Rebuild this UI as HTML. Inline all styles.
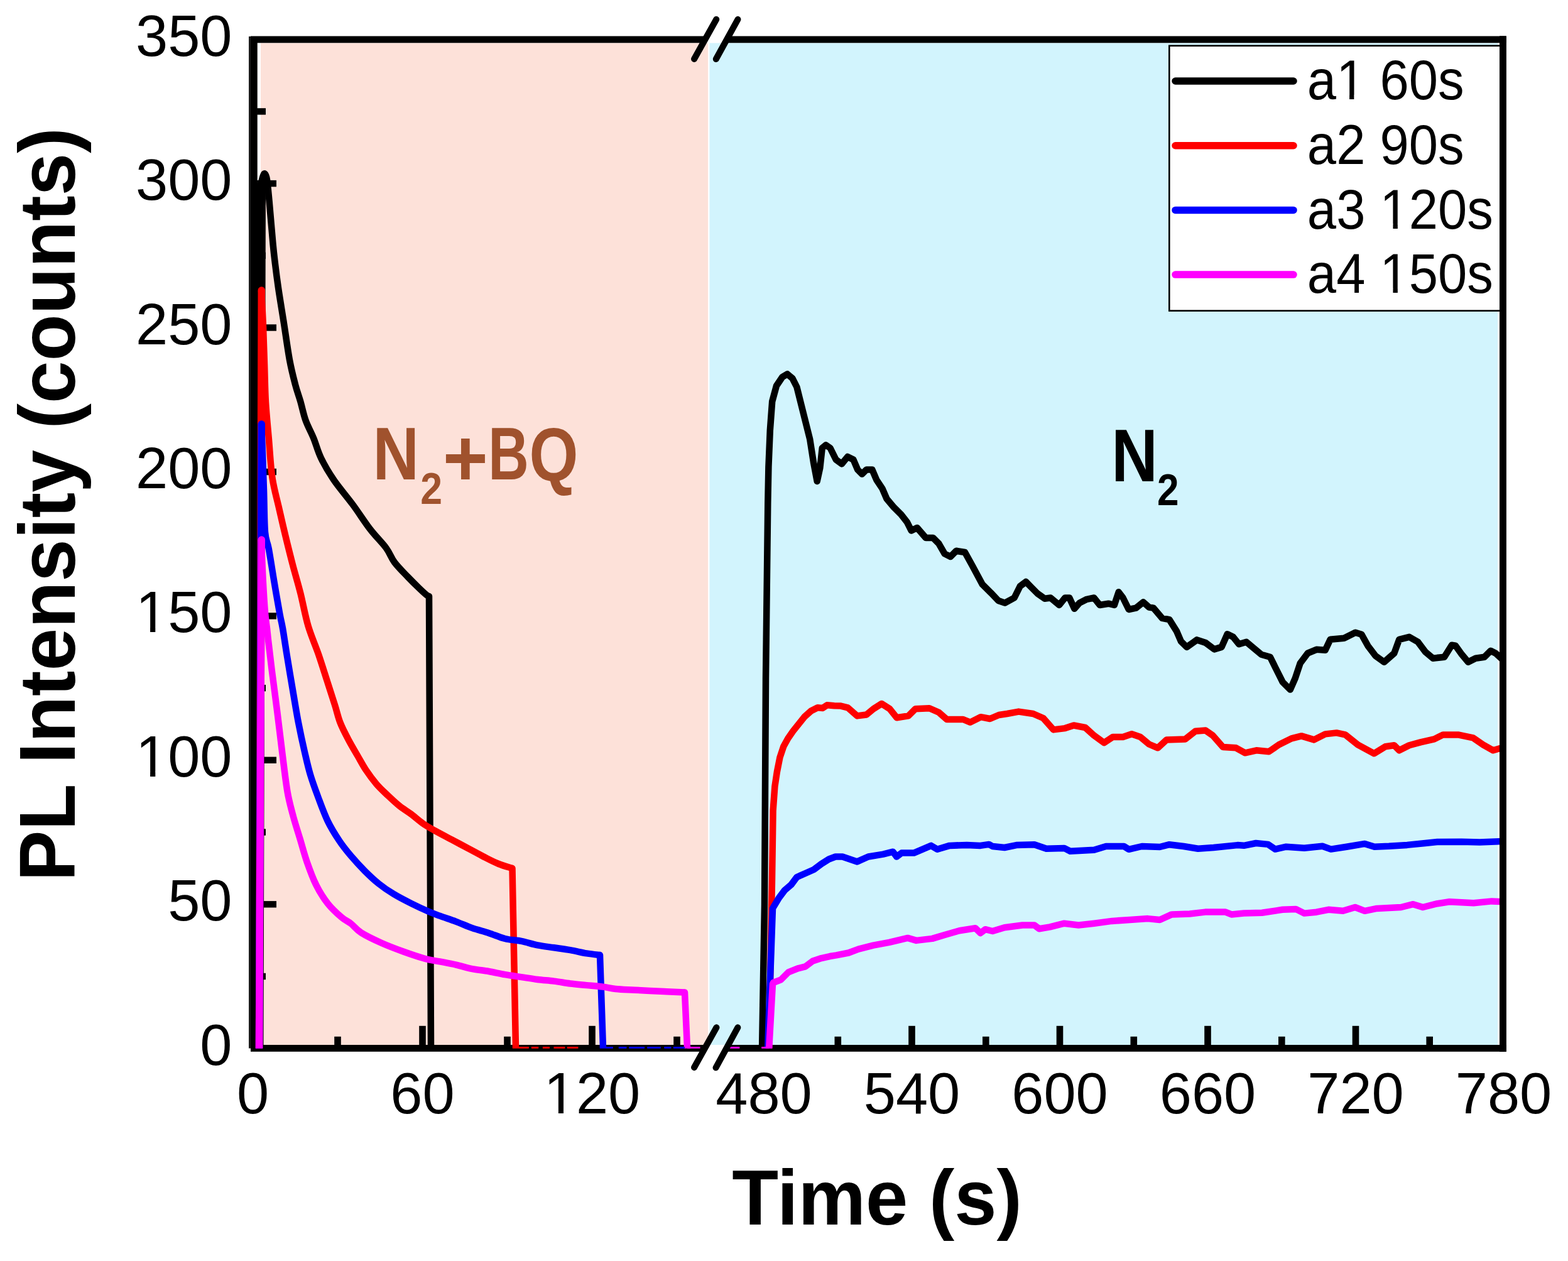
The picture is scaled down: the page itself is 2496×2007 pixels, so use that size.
<!DOCTYPE html>
<html><head><meta charset="utf-8"><title>PL Intensity vs Time</title>
<style>html,body{margin:0;padding:0;background:#fff;}svg{display:block;}</style>
</head><body>
<svg width="2496" height="2007" viewBox="0 0 2496 2007"><rect x="0" y="0" width="2496" height="2007" fill="#fff"/><rect x="415" y="68.5" width="712" height="1594.5" fill="#fde1d9"/><rect x="1129.5" y="68.5" width="1254.5" height="1594.5" fill="#d2f4fd"/><rect x="667.2" y="1632.8" width="10.6" height="31.200000000000045" fill="#000"/><rect x="937.2" y="1632.8" width="10.6" height="31.200000000000045" fill="#000"/><rect x="532.2" y="1649.8" width="10.6" height="14.200000000000045" fill="#000"/><rect x="802.2" y="1649.8" width="10.6" height="14.200000000000045" fill="#000"/><rect x="1072.2" y="1649.8" width="10.6" height="14.200000000000045" fill="#000"/><rect x="1210.7" y="1632.8" width="10.6" height="31.200000000000045" fill="#000"/><rect x="1446.2" y="1632.8" width="10.6" height="31.200000000000045" fill="#000"/><rect x="1681.7" y="1632.8" width="10.6" height="31.200000000000045" fill="#000"/><rect x="1917.2" y="1632.8" width="10.6" height="31.200000000000045" fill="#000"/><rect x="2152.7" y="1632.8" width="10.6" height="31.200000000000045" fill="#000"/><rect x="1328.5" y="1649.8" width="10.6" height="14.200000000000045" fill="#000"/><rect x="1564.0" y="1649.8" width="10.6" height="14.200000000000045" fill="#000"/><rect x="1799.5" y="1649.8" width="10.6" height="14.200000000000045" fill="#000"/><rect x="2035.0" y="1649.8" width="10.6" height="14.200000000000045" fill="#000"/><rect x="2270.4" y="1649.8" width="10.6" height="14.200000000000045" fill="#000"/><rect x="407" y="1548.8" width="16" height="10.4" fill="#000"/><rect x="407" y="1434.1" width="33" height="10.4" fill="#000"/><rect x="407" y="1319.3" width="16" height="10.4" fill="#000"/><rect x="407" y="1204.6" width="33" height="10.4" fill="#000"/><rect x="407" y="1089.9" width="16" height="10.4" fill="#000"/><rect x="407" y="975.2" width="33" height="10.4" fill="#000"/><rect x="407" y="860.5" width="16" height="10.4" fill="#000"/><rect x="407" y="745.8" width="33" height="10.4" fill="#000"/><rect x="407" y="631.0" width="16" height="10.4" fill="#000"/><rect x="407" y="516.3" width="33" height="10.4" fill="#000"/><rect x="407" y="401.6" width="16" height="10.4" fill="#000"/><rect x="407" y="286.9" width="33" height="10.4" fill="#000"/><rect x="407" y="172.2" width="16" height="10.4" fill="#000"/><rect x="396" y="58" width="13.5" height="1610.5" fill="#1c1c1c"/><rect x="399" y="58" width="10.5" height="1610.5" fill="#000"/><rect x="399" y="57.5" width="723" height="10.8" fill="#000"/><rect x="1157" y="57.5" width="1240.6999999999998" height="10.8" fill="#000"/><rect x="399" y="1663" width="723" height="10.8" fill="#000"/><rect x="1156" y="1663" width="1241.6999999999998" height="10.8" fill="#000"/><rect x="2387" y="57.5" width="10.7" height="1616.3" fill="#000"/><defs><clipPath id="cp"><rect x="403" y="63" width="1989.3" height="1605.7"/></clipPath></defs><g clip-path="url(#cp)" fill="none" stroke-linejoin="round" stroke-linecap="butt"><line x1="412.5" y1="1668" x2="416" y2="294" stroke="#000000" stroke-width="14" stroke-linecap="round"/><path d="M415.0,294.0 C415.6,291.8 417.4,283.9 418.5,281.0 C419.6,278.1 420.4,275.7 421.5,276.5 C422.6,277.3 423.8,278.9 425.0,286.0 C426.2,293.1 426.9,302.0 428.5,319.0 C430.1,336.0 432.9,371.2 434.5,388.0 C436.1,404.8 436.6,408.3 438.0,420.0 C439.4,431.7 440.7,442.2 443.0,458.0 C445.3,473.8 449.0,495.8 452.0,515.0 C455.0,534.2 458.0,556.8 461.0,573.0 C464.0,589.2 467.2,601.2 470.0,612.0 C472.8,622.8 475.2,628.5 478.0,638.0 C480.8,647.5 483.0,659.2 486.5,669.0 C490.0,678.8 494.9,687.0 499.0,697.0 C503.1,707.0 505.6,717.8 511.0,729.0 C516.4,740.2 523.1,751.7 531.5,764.0 C539.9,776.3 551.9,790.0 561.5,803.0 C571.1,816.0 580.2,830.5 589.0,842.0 C597.8,853.5 608.0,863.2 614.5,872.0 C621.0,880.8 622.2,887.3 628.0,895.0 C633.8,902.7 642.5,911.2 649.0,918.0 C655.5,924.8 662.0,931.2 667.0,936.0 C672.0,940.8 676.3,944.8 679.0,947.0 C681.7,949.2 682.3,948.7 683.0,949.0" stroke="#000000" stroke-width="10.5"/><path d="M683.0,949.0 L686.0,1668.0" stroke="#000000" stroke-width="10.5" stroke-linecap="round"/><path d="M1213.0,1672.0 L1217.0,1440.0 L1219.0,1080.0 L1222.3,800.0 L1223.4,743.0 L1225.8,685.0 L1229.2,639.0 L1236.0,614.0 L1245.4,600.0 L1253.4,595.4 L1261.5,602.3 L1268.4,616.0 L1275.4,644.0 L1282.3,671.5 L1289.2,699.0 L1295.0,736.0 L1300.7,766.0 L1305.3,745.0 L1308.8,713.0 L1314.6,708.4 L1321.5,713.0 L1330.7,731.5 L1339.9,738.4 L1349.2,727.0 L1358.4,731.5 L1365.3,747.6 L1372.2,754.5 L1379.2,747.6 L1388.4,747.6 L1395.3,763.8 L1404.5,777.6 L1411.5,793.8 L1423.0,807.6 L1434.5,819.0 L1443.7,830.7 L1450.7,844.5 L1459.9,840.0 L1473.7,856.0 L1485.3,856.0 L1494.5,865.3 L1503.7,881.4 L1513.0,886.0 L1522.2,876.8 L1536.0,879.0 L1547.6,900.0 L1563.7,930.0 L1577.5,943.7 L1589.2,956.0 L1599.6,959.6 L1614.6,951.5 L1623.8,933.0 L1633.1,926.0 L1642.3,935.4 L1651.5,944.6 L1663.0,952.7 L1672.3,951.5 L1686.1,963.0 L1695.3,951.5 L1702.3,951.5 L1710.3,968.8 L1718.4,959.6 L1729.9,953.8 L1741.5,951.5 L1750.7,963.0 L1764.5,960.7 L1773.8,963.0 L1780.7,942.3 L1787.6,951.5 L1796.8,970.0 L1808.4,967.6 L1819.9,958.4 L1829.1,966.5 L1836.1,967.6 L1849.9,983.8 L1861.4,986.1 L1873.0,1004.6 L1879.9,1020.7 L1889.1,1029.9 L1905.3,1018.4 L1919.1,1023.0 L1932.9,1033.4 L1944.5,1029.9 L1953.7,1009.2 L1962.9,1013.8 L1972.2,1025.3 L1984.0,1021.8 L1995.9,1031.8 L2007.9,1041.7 L2021.9,1045.7 L2029.8,1061.7 L2041.8,1085.6 L2053.8,1097.6 L2061.7,1079.6 L2069.7,1055.7 L2081.7,1039.7 L2095.6,1033.8 L2109.6,1034.8 L2117.6,1017.8 L2139.5,1015.8 L2157.5,1006.8 L2167.4,1009.8 L2177.4,1027.8 L2189.4,1043.7 L2203.3,1053.7 L2219.3,1039.7 L2227.3,1017.8 L2243.2,1013.8 L2257.2,1021.8 L2269.2,1037.8 L2281.1,1047.7 L2299.1,1045.7 L2311.0,1026.8 L2317.0,1027.8 L2327.0,1041.7 L2337.0,1053.7 L2348.9,1047.7 L2362.9,1045.7 L2372.9,1035.8 L2380.8,1039.7 L2393.0,1051.0" stroke="#000000" stroke-width="10.5"/><line x1="412.5" y1="1668" x2="416.3" y2="462" stroke="#ff0000" stroke-width="11.5" stroke-linecap="round"/><path d="M416.0,462.0 C416.5,471.7 418.2,500.3 419.0,520.0 C419.8,539.7 420.3,560.0 421.0,580.0 C421.7,600.0 421.8,620.0 423.0,640.0 C424.2,660.0 426.3,680.0 428.0,700.0 C429.7,720.0 430.8,742.3 433.4,760.0 C436.0,777.7 440.0,790.7 443.5,806.0 C447.0,821.3 450.5,836.7 454.2,852.0 C457.9,867.3 461.7,882.6 465.7,898.0 C469.7,913.4 474.3,928.2 478.4,944.5 C482.5,960.8 485.7,979.8 490.5,996.0 C495.3,1012.2 502.1,1027.3 507.2,1042.0 C512.2,1056.7 516.5,1070.7 520.8,1084.0 C525.1,1097.3 529.5,1111.0 533.0,1122.0 C536.5,1133.0 537.9,1140.7 541.5,1150.0 C545.1,1159.3 550.2,1168.8 554.9,1177.7 C559.6,1186.6 565.0,1195.5 569.6,1203.5 C574.2,1211.5 577.7,1218.3 582.6,1225.7 C587.5,1233.1 593.4,1241.0 599.2,1247.8 C605.0,1254.6 611.5,1260.4 617.6,1266.3 C623.8,1272.2 630.0,1278.0 636.1,1282.9 C642.2,1287.8 648.4,1291.2 654.5,1295.8 C660.6,1300.4 666.9,1306.2 673.0,1310.5 C679.1,1314.8 683.7,1317.3 691.4,1321.6 C699.1,1325.9 709.9,1331.5 719.1,1336.4 C728.3,1341.3 737.6,1346.2 746.8,1351.1 C756.0,1356.0 766.7,1361.9 774.5,1365.9 C782.3,1369.9 787.0,1372.3 793.8,1375.0 C800.6,1377.7 811.9,1380.8 815.5,1382.0" stroke="#ff0000" stroke-width="10.5"/><path d="M815.5,1382.0 L821.0,1668.0" stroke="#ff0000" stroke-width="10.5" stroke-linecap="round"/><path d="M1224.0,1672.0 L1229.0,1400.0 L1230.6,1290.0 L1233.4,1251.5 L1236.9,1228.4 L1241.5,1205.3 L1247.3,1188.0 L1254.2,1175.4 L1262.3,1163.8 L1271.5,1152.3 L1280.7,1140.7 L1291.1,1131.5 L1301.5,1126.3 L1309.6,1126.9 L1316.5,1122.3 L1328.0,1123.2 L1338.4,1123.6 L1349.6,1126.4 L1364.4,1139.4 L1379.2,1137.5 L1390.4,1128.2 L1403.4,1120.0 L1416.3,1128.2 L1427.5,1142.2 L1446.0,1139.4 L1457.2,1128.2 L1479.4,1127.3 L1494.3,1133.8 L1507.2,1145.0 L1533.2,1145.0 L1544.4,1149.6 L1561.1,1141.2 L1575.9,1144.0 L1590.0,1138.0 L1603.1,1136.0 L1621.5,1132.6 L1644.6,1136.0 L1660.7,1143.0 L1676.9,1161.4 L1695.3,1159.1 L1709.2,1154.5 L1727.6,1158.0 L1741.5,1170.6 L1757.6,1182.2 L1771.5,1172.9 L1787.6,1172.9 L1801.5,1168.3 L1815.3,1172.9 L1829.1,1184.5 L1843.0,1190.3 L1856.8,1177.6 L1886.8,1176.4 L1903.0,1163.7 L1919.1,1162.6 L1930.6,1170.6 L1946.8,1189.1 L1967.5,1190.3 L1982.0,1198.3 L1999.9,1194.3 L2019.9,1196.3 L2035.8,1185.3 L2055.8,1175.4 L2071.7,1171.4 L2091.7,1177.4 L2109.6,1168.4 L2127.6,1166.4 L2141.5,1169.4 L2161.5,1185.3 L2187.4,1199.3 L2205.3,1188.3 L2219.3,1186.3 L2227.3,1194.3 L2243.2,1186.3 L2261.2,1181.4 L2283.1,1176.4 L2297.1,1169.4 L2321.0,1169.4 L2344.9,1174.4 L2360.9,1185.3 L2376.9,1194.3 L2393.0,1189.5" stroke="#ff0000" stroke-width="10.5"/><line x1="412.5" y1="1668" x2="416.3" y2="675" stroke="#0000ff" stroke-width="11.5" stroke-linecap="round"/><path d="M416.0,675.0 C416.3,682.5 417.3,702.5 418.0,720.0 C418.7,737.5 419.3,758.8 420.0,780.0 C420.7,801.2 420.7,831.5 422.0,847.0 C423.3,862.5 425.3,860.0 427.7,873.0 C430.1,886.0 433.4,907.7 436.3,925.0 C439.2,942.3 443.0,964.3 445.3,976.8 C447.6,989.3 448.1,989.1 450.0,1000.0 C451.9,1010.9 453.9,1025.3 456.6,1042.0 C459.3,1058.7 463.2,1082.0 466.3,1100.0 C469.4,1118.0 471.9,1134.0 475.0,1150.0 C478.1,1166.0 481.6,1182.3 484.8,1196.1 C488.0,1209.9 490.3,1220.7 494.0,1233.0 C497.7,1245.3 502.3,1257.7 506.9,1270.0 C511.5,1282.3 516.2,1295.5 521.7,1306.9 C527.2,1318.3 534.0,1329.0 540.1,1338.2 C546.2,1347.4 551.8,1354.2 558.6,1362.2 C565.4,1370.2 573.3,1378.8 580.7,1386.2 C588.1,1393.6 595.2,1400.3 602.9,1406.5 C610.6,1412.7 618.3,1417.9 626.9,1423.1 C635.5,1428.3 645.3,1433.3 654.5,1437.9 C663.7,1442.5 674.6,1447.5 682.2,1450.8 C689.8,1454.1 692.7,1455.0 700.0,1457.7 C707.3,1460.4 717.4,1463.6 726.0,1466.8 C734.6,1470.0 743.2,1474.1 751.9,1477.1 C760.5,1480.1 769.2,1482.1 777.9,1484.9 C786.6,1487.7 795.2,1491.8 803.9,1494.0 C812.6,1496.2 821.2,1496.2 829.9,1497.9 C838.5,1499.6 847.1,1502.7 855.8,1504.4 C864.4,1506.1 873.1,1507.0 881.8,1508.3 C890.5,1509.6 899.1,1510.7 907.8,1512.2 C916.5,1513.7 925.9,1516.1 933.8,1517.4 C941.7,1518.7 951.5,1519.6 955.0,1520.0" stroke="#0000ff" stroke-width="10.5"/><path d="M955.0,1520.0 L960.0,1668.0" stroke="#0000ff" stroke-width="10.5" stroke-linecap="round"/><path d="M1222.0,1672.0 L1230.0,1446.0 L1231.0,1444.0 L1240.0,1429.0 L1249.0,1417.0 L1259.5,1408.0 L1268.5,1396.0 L1282.0,1390.0 L1295.5,1384.0 L1307.5,1375.0 L1319.4,1367.5 L1330.0,1363.5 L1341.0,1363.5 L1364.5,1371.4 L1382.2,1363.5 L1405.7,1359.6 L1421.4,1355.7 L1427.3,1363.5 L1435.1,1357.6 L1454.7,1357.6 L1482.2,1345.9 L1492.0,1351.8 L1511.6,1345.9 L1539.0,1344.9 L1560.6,1345.9 L1574.3,1343.9 L1580.0,1347.0 L1599.0,1349.0 L1618.0,1345.1 L1646.6,1344.2 L1665.6,1350.8 L1694.1,1349.9 L1703.6,1354.7 L1741.6,1352.7 L1760.6,1347.0 L1789.2,1347.0 L1796.8,1351.8 L1817.7,1347.0 L1846.2,1348.0 L1861.4,1344.2 L1884.2,1347.0 L1907.1,1350.8 L1931.8,1349.0 L1969.8,1345.1 L1980.0,1345.8 L1999.2,1342.0 L2018.5,1343.9 L2030.0,1351.6 L2047.4,1347.7 L2076.2,1349.7 L2105.1,1346.8 L2118.6,1351.6 L2143.6,1347.7 L2172.5,1342.9 L2187.9,1347.7 L2211.0,1346.8 L2239.9,1344.9 L2268.7,1342.0 L2288.0,1340.0 L2326.5,1339.7 L2355.4,1340.4 L2393.0,1339.0" stroke="#0000ff" stroke-width="10.5"/><line x1="412.5" y1="1668" x2="416.3" y2="859" stroke="#ff00ff" stroke-width="11.5" stroke-linecap="round"/><path d="M416.0,859.0 C416.4,869.2 417.5,900.7 418.5,920.0 C419.5,939.3 420.9,961.7 422.0,975.0 C423.1,988.3 424.1,992.0 425.0,1000.0 C425.9,1008.0 426.2,1012.2 427.5,1023.0 C428.8,1033.8 430.2,1046.4 432.5,1065.0 C434.8,1083.6 438.6,1111.3 441.5,1134.5 C444.4,1157.7 447.3,1182.9 450.0,1204.0 C452.7,1225.1 454.9,1245.0 457.7,1261.0 C460.5,1277.0 463.7,1287.8 467.0,1300.0 C470.3,1312.2 473.8,1322.6 477.4,1334.5 C481.0,1346.4 484.2,1359.1 488.5,1371.4 C492.8,1383.7 497.7,1397.3 503.2,1408.4 C508.7,1419.5 514.9,1429.3 521.7,1437.9 C528.5,1446.5 537.6,1454.7 543.8,1460.0 C549.9,1465.3 553.4,1465.9 558.6,1470.0 C563.8,1474.1 566.8,1479.3 575.0,1484.5 C583.2,1489.7 596.4,1496.0 607.6,1501.0 C618.8,1506.0 630.4,1510.3 642.0,1514.5 C653.6,1518.7 667.3,1523.3 677.0,1526.0 C686.7,1528.7 691.8,1528.8 700.0,1530.4 C708.2,1532.0 717.4,1533.6 726.0,1535.6 C734.6,1537.5 743.2,1540.4 751.9,1542.1 C760.5,1543.8 769.2,1544.5 777.9,1546.0 C786.6,1547.5 795.2,1549.7 803.9,1551.2 C812.6,1552.7 821.2,1553.8 829.9,1555.1 C838.5,1556.4 847.1,1557.9 855.8,1559.0 C864.4,1560.1 873.1,1560.5 881.8,1561.6 C890.5,1562.7 899.1,1564.4 907.8,1565.5 C916.5,1566.6 925.1,1567.2 933.8,1568.1 C942.4,1568.9 952.0,1569.6 959.7,1570.6 C967.4,1571.6 971.5,1573.1 980.0,1573.9 C988.5,1574.8 997.9,1575.0 1010.7,1575.7 C1023.5,1576.4 1043.8,1577.4 1057.0,1578.0 C1070.2,1578.6 1084.5,1579.2 1090.0,1579.5" stroke="#ff00ff" stroke-width="10.5"/><path d="M1090.0,1579.5 L1094.0,1668.0" stroke="#ff00ff" stroke-width="10.5" stroke-linecap="round"/><path d="M1224.0,1672.0 L1230.0,1566.0 L1231.0,1564.0 L1243.0,1559.4 L1255.0,1547.4 L1270.0,1541.4 L1282.0,1538.4 L1294.0,1529.4 L1307.5,1525.0 L1321.0,1522.0 L1331.2,1520.4 L1350.8,1516.5 L1366.5,1510.6 L1390.0,1504.7 L1415.5,1499.8 L1444.9,1492.9 L1458.6,1496.9 L1484.1,1493.9 L1503.7,1488.0 L1527.3,1481.2 L1552.7,1477.3 L1560.6,1485.1 L1568.4,1479.2 L1580.0,1482.0 L1599.0,1476.3 L1627.5,1472.5 L1646.6,1472.5 L1654.2,1478.2 L1671.3,1475.4 L1694.1,1469.7 L1716.9,1472.5 L1741.6,1469.7 L1770.1,1465.9 L1798.7,1464.0 L1827.2,1462.1 L1846.2,1464.0 L1865.2,1455.4 L1893.7,1454.5 L1918.5,1451.6 L1950.8,1451.6 L1960.3,1455.4 L1980.0,1453.6 L2008.9,1452.7 L2041.6,1447.8 L2062.8,1446.9 L2076.2,1453.6 L2095.5,1451.7 L2114.7,1447.8 L2137.8,1449.8 L2157.1,1444.0 L2172.5,1449.8 L2191.7,1445.9 L2230.2,1444.0 L2249.5,1439.2 L2264.9,1444.0 L2288.0,1438.2 L2307.2,1435.3 L2345.7,1437.3 L2374.6,1434.4 L2393.0,1435.3" stroke="#ff00ff" stroke-width="10.5"/></g><rect x="826.0" y="1666" width="15.8" height="2.8" fill="#ff0000"/><rect x="845.9" y="1666" width="11.3" height="2.8" fill="#ff0000"/><rect x="863.9" y="1666" width="11.0" height="2.8" fill="#ff0000"/><rect x="881.5" y="1666" width="17.8" height="2.8" fill="#ff0000"/><rect x="902.8" y="1666" width="17.6" height="2.8" fill="#ff0000"/><rect x="965.0" y="1666" width="10.8" height="2.8" fill="#0000ff"/><rect x="984.8" y="1666" width="12.6" height="2.8" fill="#0000ff"/><rect x="1001.3" y="1666" width="24.7" height="2.8" fill="#0000ff"/><rect x="1030.2" y="1666" width="21.5" height="2.8" fill="#0000ff"/><rect x="1057.3" y="1666" width="11.1" height="2.8" fill="#0000ff"/><rect x="1071.9" y="1666" width="18.1" height="2.8" fill="#0000ff"/><rect x="1094.0" y="1666" width="20.5" height="2.8" fill="#ff00ff"/><rect x="1120.7" y="1666" width="0.3" height="2.8" fill="#ff00ff"/><rect x="1157.0" y="1666" width="20.3" height="2.8" fill="#ff00ff"/><rect x="1212.2" y="1666" width="11.8" height="2.8" fill="#ff00ff"/><line x1="1105" y1="94" x2="1140.3" y2="30.8" stroke="#000" stroke-width="10" stroke-linecap="round"/><line x1="1139.8" y1="94" x2="1174.5" y2="30.8" stroke="#000" stroke-width="10" stroke-linecap="round"/><line x1="1105" y1="1699" x2="1140.5" y2="1635.3" stroke="#000" stroke-width="10" stroke-linecap="round"/><line x1="1139.5" y1="1699.3" x2="1174.4" y2="1635.3" stroke="#000" stroke-width="10" stroke-linecap="round"/><text transform="translate(369.50,1694.70)" x="-51.17" y="0" font-family="Liberation Sans, Arial, sans-serif" font-size="92" fill="#000" style="font-kerning:none">0</text><text transform="translate(369.50,1465.27)" x="-102.33" y="0" font-family="Liberation Sans, Arial, sans-serif" font-size="92" fill="#000" style="font-kerning:none">50</text><text transform="translate(369.50,1235.83)" x="-153.50" y="0" font-family="Liberation Sans, Arial, sans-serif" font-size="92" fill="#000" style="font-kerning:none" clip-path="url(#c1_0)">100</text><text transform="translate(369.50,1006.39)" x="-153.50" y="0" font-family="Liberation Sans, Arial, sans-serif" font-size="92" fill="#000" style="font-kerning:none" clip-path="url(#c1_1)">150</text><text transform="translate(369.50,776.96)" x="-153.50" y="0" font-family="Liberation Sans, Arial, sans-serif" font-size="92" fill="#000" style="font-kerning:none">200</text><text transform="translate(369.50,547.53)" x="-153.50" y="0" font-family="Liberation Sans, Arial, sans-serif" font-size="92" fill="#000" style="font-kerning:none">250</text><text transform="translate(369.50,318.09)" x="-153.50" y="0" font-family="Liberation Sans, Arial, sans-serif" font-size="92" fill="#000" style="font-kerning:none">300</text><text transform="translate(369.50,88.65)" x="-153.50" y="0" font-family="Liberation Sans, Arial, sans-serif" font-size="92" fill="#000" style="font-kerning:none">350</text><text transform="translate(402.50,1772.30)" x="-25.58" y="0" font-family="Liberation Sans, Arial, sans-serif" font-size="92" fill="#000" style="font-kerning:none">0</text><text transform="translate(672.50,1772.30)" x="-51.17" y="0" font-family="Liberation Sans, Arial, sans-serif" font-size="92" fill="#000" style="font-kerning:none">60</text><text transform="translate(942.50,1772.30)" x="-76.75" y="0" font-family="Liberation Sans, Arial, sans-serif" font-size="92" fill="#000" style="font-kerning:none" clip-path="url(#c1_2)">120</text><text transform="translate(1216.00,1772.30)" x="-76.75" y="0" font-family="Liberation Sans, Arial, sans-serif" font-size="92" fill="#000" style="font-kerning:none">480</text><text transform="translate(1451.50,1772.30)" x="-76.75" y="0" font-family="Liberation Sans, Arial, sans-serif" font-size="92" fill="#000" style="font-kerning:none">540</text><text transform="translate(1687.00,1772.30)" x="-76.75" y="0" font-family="Liberation Sans, Arial, sans-serif" font-size="92" fill="#000" style="font-kerning:none">600</text><text transform="translate(1922.50,1772.30)" x="-76.75" y="0" font-family="Liberation Sans, Arial, sans-serif" font-size="92" fill="#000" style="font-kerning:none">660</text><text transform="translate(2158.00,1772.30)" x="-76.75" y="0" font-family="Liberation Sans, Arial, sans-serif" font-size="92" fill="#000" style="font-kerning:none">720</text><text transform="translate(2393.50,1772.30)" x="-76.75" y="0" font-family="Liberation Sans, Arial, sans-serif" font-size="92" fill="#000" style="font-kerning:none">780</text><text transform="translate(1396,1948.9) scale(0.968,1)" x="0" y="0" font-family="Liberation Sans, Arial, sans-serif" font-size="125" font-weight="bold" text-anchor="middle">Time (s)</text><text transform="translate(119,803) rotate(-90) scale(0.966,1)" x="0" y="0" font-family="Liberation Sans, Arial, sans-serif" font-size="125.8" font-weight="bold" text-anchor="middle">PL Intensity (counts)</text><text transform="translate(593.60,763.20) scale(1.0172,1.1817)" font-family="Liberation Sans, Arial, sans-serif" font-size="100" font-weight="bold" fill="#a0522d">N</text><text transform="translate(669.13,801.80) scale(0.6252,0.6989)" font-family="Liberation Sans, Arial, sans-serif" font-size="100" font-weight="bold" fill="#a0522d">2</text><text transform="translate(704.81,773.20) scale(1.2364,1.2721)" font-family="Liberation Sans, Arial, sans-serif" font-size="100" font-weight="bold" fill="#a0522d">+</text><text transform="translate(777.22,763.20) scale(0.8936,1.1817)" font-family="Liberation Sans, Arial, sans-serif" font-size="100" font-weight="bold" fill="#a0522d">B</text><text transform="translate(842.49,764.50) scale(1.0017,1.2030)" font-family="Liberation Sans, Arial, sans-serif" font-size="100" font-weight="bold" fill="#a0522d">Q</text><text transform="translate(1769.18,766.00) scale(1.0189,1.1832)" font-family="Liberation Sans, Arial, sans-serif" font-size="100" font-weight="bold" fill="#000">N</text><text transform="translate(1841.95,804.20) scale(0.6210,0.7003)" font-family="Liberation Sans, Arial, sans-serif" font-size="100" font-weight="bold" fill="#000">2</text><rect x="1861.3" y="72.8" width="528.7" height="421.8" fill="#fff" stroke="#000" stroke-width="2.6"/><line x1="1871" y1="129.0" x2="2059" y2="129.0" stroke="#000" stroke-width="11.5" stroke-linecap="round"/><text transform="translate(2080.86,158.30) scale(0.9350,1.0000)" x="0.00" y="0" font-family="Liberation Sans, Arial, sans-serif" font-size="89" fill="#000" style="font-kerning:none" clip-path="url(#c1_3)">a1 60s</text><line x1="1871" y1="231.7" x2="2059" y2="231.7" stroke="#ff0000" stroke-width="11.5" stroke-linecap="round"/><text transform="translate(2080.86,260.90) scale(0.9350,1.0000)" x="0.00" y="0" font-family="Liberation Sans, Arial, sans-serif" font-size="89" fill="#000" style="font-kerning:none">a2 90s</text><line x1="1871" y1="334.4" x2="2059" y2="334.4" stroke="#0000ff" stroke-width="11.5" stroke-linecap="round"/><text transform="translate(2080.86,363.50) scale(0.9350,1.0000)" x="0.00" y="0" font-family="Liberation Sans, Arial, sans-serif" font-size="89" fill="#000" style="font-kerning:none" clip-path="url(#c1_4)">a3 120s</text><line x1="1871" y1="437.1" x2="2059" y2="437.1" stroke="#ff00ff" stroke-width="11.5" stroke-linecap="round"/><text transform="translate(2080.86,466.10) scale(0.9350,1.0000)" x="0.00" y="0" font-family="Liberation Sans, Arial, sans-serif" font-size="89" fill="#000" style="font-kerning:none" clip-path="url(#c1_5)">a4 150s</text><rect x="2387" y="57.5" width="10.7" height="1616.3" fill="#000"/><defs><clipPath id="c1_0" clipPathUnits="userSpaceOnUse"><path clip-rule="evenodd" d="M-203.5,-138.0 H50.0 V46.0 H-203.5 Z M-148.0,-7.6 H-130.4 V27.6 H-148.0 Z M-122.2,-7.6 H-105.3 V27.6 H-122.2 Z"/></clipPath><clipPath id="c1_1" clipPathUnits="userSpaceOnUse"><path clip-rule="evenodd" d="M-203.5,-138.0 H50.0 V46.0 H-203.5 Z M-148.0,-7.6 H-130.4 V27.6 H-148.0 Z M-122.2,-7.6 H-105.3 V27.6 H-122.2 Z"/></clipPath><clipPath id="c1_2" clipPathUnits="userSpaceOnUse"><path clip-rule="evenodd" d="M-126.7,-138.0 H126.7 V46.0 H-126.7 Z M-71.2,-7.6 H-53.6 V27.6 H-71.2 Z M-45.5,-7.6 H-28.6 V27.6 H-45.5 Z"/></clipPath><clipPath id="c1_3" clipPathUnits="userSpaceOnUse"><path clip-rule="evenodd" d="M-50.0,-133.5 H317.2 V44.5 H-50.0 Z M54.8,-7.3 H71.9 V26.7 H54.8 Z M79.7,-7.3 H96.1 V26.7 H79.7 Z"/></clipPath><clipPath id="c1_4" clipPathUnits="userSpaceOnUse"><path clip-rule="evenodd" d="M-50.0,-133.5 H366.7 V44.5 H-50.0 Z M129.0,-7.3 H146.1 V26.7 H129.0 Z M154.0,-7.3 H170.4 V26.7 H154.0 Z"/></clipPath><clipPath id="c1_5" clipPathUnits="userSpaceOnUse"><path clip-rule="evenodd" d="M-50.0,-133.5 H366.7 V44.5 H-50.0 Z M129.0,-7.3 H146.1 V26.7 H129.0 Z M154.0,-7.3 H170.4 V26.7 H154.0 Z"/></clipPath></defs></svg>
</body></html>
